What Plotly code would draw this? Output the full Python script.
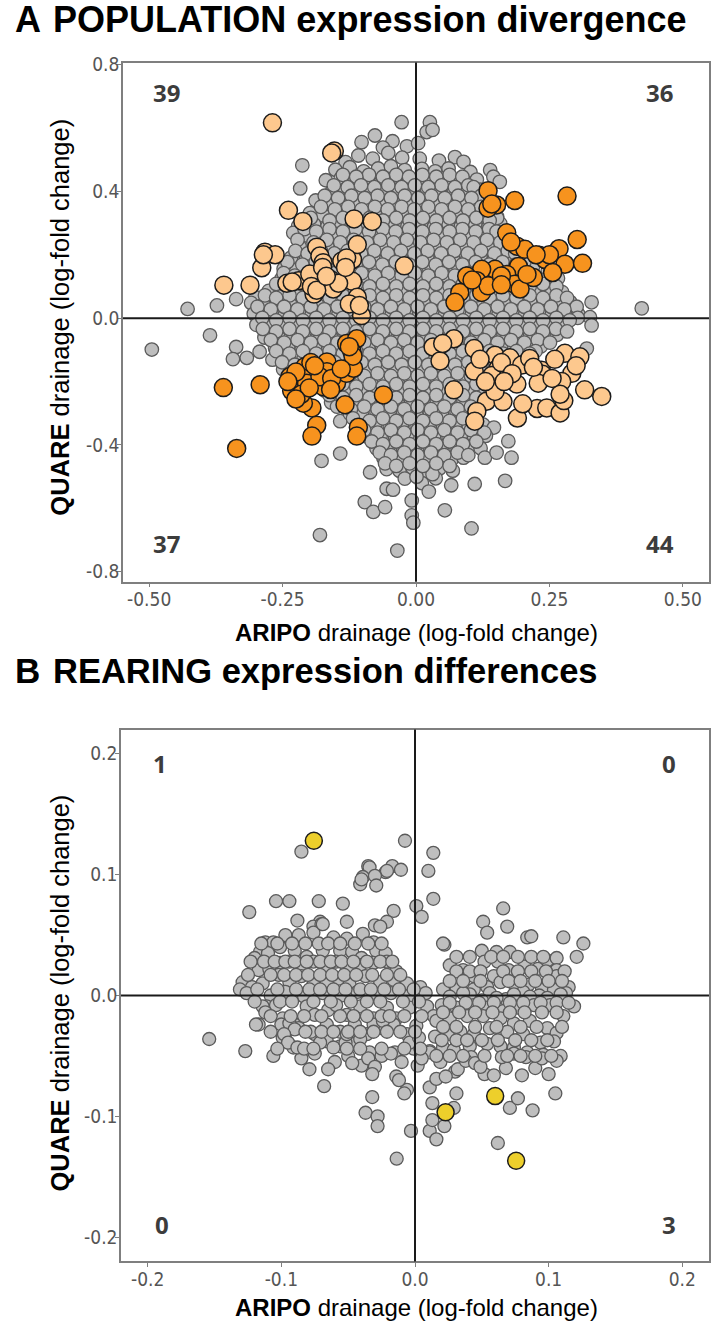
import plotly.graph_objects as go

# ---------------- Panel A data (ARIPO vs QUARE log-fold change) ----------------
A_gray = [
(-0.027,0.618),(0.026,0.618),(0.020,0.587),(0.031,0.594),
(-0.077,0.576),(-0.102,0.555),(-0.044,0.558),(-0.017,0.542),(-0.062,0.538),(0.004,0.552),
(-0.108,0.513),(-0.081,0.503),(-0.052,0.521),(-0.026,0.506),(0.007,0.503),(0.073,0.508),(0.089,0.493),(0.043,0.497),(-0.132,0.492),
(-0.213,0.482),(-0.151,0.468),(-0.124,0.476),(-0.098,0.463),(-0.071,0.472),(-0.047,0.479),(-0.021,0.467),(0.011,0.471),(0.036,0.463),(0.061,0.472),(0.102,0.461),(0.139,0.467),(0.145,0.446),
(-0.169,0.435),(-0.141,0.441),(-0.116,0.429),(-0.089,0.437),(-0.066,0.428),(-0.039,0.441),(-0.013,0.431),(0.016,0.439),(0.041,0.429),(0.066,0.441),(0.091,0.431),(0.114,0.437),(0.157,0.430),
(-0.217,0.409),(-0.158,0.398),(-0.133,0.406),(-0.108,0.397),(-0.084,0.403),(-0.059,0.394),(-0.034,0.406),(-0.007,0.397),(0.021,0.404),(0.046,0.396),(0.071,0.404),(0.096,0.396),(0.121,0.405),
(-0.188,0.371),(-0.163,0.361),(-0.139,0.369),(-0.114,0.359),(-0.089,0.367),(-0.064,0.359),(-0.041,0.369),(-0.014,0.360),(0.011,0.367),(0.036,0.359),(0.061,0.368),(0.086,0.359),(0.109,0.366),(0.131,0.358),
(-0.199,0.331),(-0.174,0.324),(-0.149,0.333),(-0.124,0.325),(-0.099,0.334),(-0.076,0.324),(-0.051,0.333),(-0.024,0.326),(0.001,0.334),(0.026,0.325),(0.051,0.333),(0.076,0.324),(0.101,0.331),(0.126,0.325),(0.152,0.320),
(-0.221,0.290),(-0.191,0.296),(-0.166,0.289),(-0.141,0.298),(-0.116,0.289),(-0.091,0.297),(-0.064,0.289),(-0.039,0.298),(-0.016,0.289),(0.011,0.297),(0.034,0.289),(0.061,0.298),(0.084,0.289),(0.111,0.297),(0.136,0.290),(0.158,0.298),
(-0.230,0.269),(-0.203,0.260),(-0.176,0.257),(-0.151,0.266),(-0.126,0.257),(-0.099,0.265),(-0.074,0.256),(-0.051,0.264),(-0.024,0.256),(0.001,0.264),(0.026,0.256),(0.049,0.265),(0.076,0.257),(0.099,0.264),(0.124,0.256),(0.149,0.263),
(-0.218,0.226),(-0.192,0.221),(-0.166,0.229),(-0.141,0.221),(-0.114,0.229),(-0.091,0.220),(-0.064,0.229),(-0.041,0.221),(-0.014,0.229),(0.011,0.220),(0.036,0.229),(0.059,0.221),(0.086,0.229),(0.111,0.220),(0.134,0.229),(0.161,0.231),(0.186,0.220),
(-0.234,0.191),(-0.206,0.187),(-0.181,0.194),(-0.156,0.186),(-0.129,0.195),(-0.106,0.187),(-0.079,0.194),(-0.056,0.186),(-0.029,0.195),(-0.004,0.187),(0.021,0.194),(0.046,0.186),(0.069,0.195),(0.096,0.187),(0.121,0.194),(0.146,0.189),(0.171,0.197),
(-0.248,0.156),(-0.224,0.152),(-0.199,0.159),(-0.176,0.151),(-0.149,0.160),(-0.126,0.152),(-0.099,0.159),(-0.076,0.151),(-0.049,0.160),(-0.026,0.152),(0.001,0.159),(0.024,0.151),(0.051,0.160),(0.074,0.152),(0.101,0.159),(0.126,0.151),(0.181,0.149),(0.219,0.161),(0.247,0.151),
(-0.252,0.124),(-0.239,0.128),(-0.214,0.119),(-0.191,0.127),(-0.164,0.118),(-0.141,0.127),(-0.114,0.119),(-0.091,0.127),(-0.064,0.118),(-0.041,0.127),(-0.014,0.119),(0.011,0.127),(0.034,0.118),(0.061,0.127),(0.084,0.119),(0.111,0.127),(0.169,0.124),(0.238,0.121),(0.266,0.126),(0.258,0.095),
(-0.273,0.066),(-0.301,0.066),(-0.337,0.060),(-0.373,0.040),(-0.428,0.029),(-0.223,0.081),
(-0.276,0.086),(-0.251,0.091),(-0.226,0.082),(-0.199,0.091),(-0.176,0.083),(-0.149,0.091),(-0.126,0.082),(-0.099,0.091),(-0.076,0.083),(-0.049,0.091),(-0.026,0.082),(0.001,0.091),(0.026,0.083),(0.049,0.091),(0.076,0.082),(0.099,0.091),(0.126,0.083),(0.149,0.091),(0.176,0.082),(0.199,0.091),(0.226,0.083),(0.249,0.091),(0.274,0.082),
(-0.309,0.048),(-0.286,0.044),(-0.259,0.053),(-0.236,0.045),(-0.209,0.054),(-0.186,0.045),(-0.159,0.053),(-0.136,0.045),(-0.109,0.054),(-0.086,0.045),(-0.059,0.053),(-0.036,0.045),(-0.009,0.054),(0.016,0.045),(0.039,0.053),(0.066,0.045),(0.089,0.054),(0.116,0.045),(0.139,0.053),(0.166,0.045),(0.189,0.054),(0.216,0.045),(0.239,0.053),(0.264,0.045),(0.289,0.051),(0.329,0.050),(0.423,0.031),(0.248,0.050),
(-0.304,0.014),(-0.271,0.018),(-0.246,0.009),(-0.219,0.017),(-0.196,0.009),(-0.169,0.018),(-0.146,0.009),(-0.119,0.017),(-0.096,0.009),(-0.069,0.018),(-0.046,0.009),(-0.019,0.017),(0.006,0.009),(0.031,0.018),(0.054,0.009),(0.081,0.017),(0.104,0.009),(0.131,0.018),(0.154,0.009),(0.181,0.017),(0.204,0.009),(0.231,0.018),(0.254,0.009),(0.279,0.016),(0.304,0.013),(0.326,0.003),
(-0.299,-0.021),(-0.274,-0.026),(-0.249,-0.017),(-0.224,-0.026),(-0.201,-0.018),(-0.174,-0.026),(-0.151,-0.017),(-0.124,-0.026),(-0.101,-0.018),(-0.074,-0.026),(-0.051,-0.017),(-0.024,-0.026),(0.001,-0.018),(0.026,-0.026),(0.049,-0.017),(0.076,-0.026),(0.099,-0.018),(0.126,-0.026),(0.149,-0.017),(0.176,-0.026),(0.199,-0.018),(0.226,-0.026),(0.251,-0.017),(0.274,-0.026),(0.329,-0.023),
(-0.386,-0.054),(-0.284,-0.061),(-0.258,-0.059),(-0.234,-0.054),(-0.209,-0.061),(-0.184,-0.053),(-0.159,-0.061),(-0.134,-0.053),(-0.111,-0.062),(-0.084,-0.053),(-0.061,-0.061),(-0.034,-0.053),(-0.011,-0.062),(0.016,-0.053),(0.041,-0.061),(0.064,-0.053),(0.091,-0.062),(0.114,-0.053),(0.141,-0.061),(0.164,-0.053),(0.191,-0.062),(0.214,-0.053),(0.241,-0.061),(0.264,-0.053),
(-0.495,-0.099),(-0.337,-0.091),(-0.293,-0.106),(-0.264,-0.094),(-0.239,-0.089),(-0.214,-0.096),(-0.189,-0.088),(-0.164,-0.097),(-0.141,-0.089),(-0.089,-0.096),(-0.064,-0.089),(-0.039,-0.097),(-0.014,-0.089),(0.011,-0.097),(0.036,-0.089),(0.061,-0.097),(0.084,-0.089),(0.111,-0.097),(0.134,-0.089),(0.161,-0.097),(0.184,-0.089),(0.211,-0.097),(0.234,-0.089),(0.320,-0.096),
(-0.343,-0.129),(-0.317,-0.125),(-0.269,-0.131),(-0.241,-0.121),(-0.211,-0.129),(-0.179,-0.121),(-0.151,-0.129),(-0.124,-0.121),(-0.099,-0.129),(-0.076,-0.121),(-0.049,-0.129),(-0.026,-0.121),(0.001,-0.129),(0.024,-0.121),(0.051,-0.129),(0.074,-0.121),(0.101,-0.129),(0.124,-0.121),(0.151,-0.129),(0.176,-0.121),(0.199,-0.129),
(-0.249,-0.161),(-0.221,-0.166),(-0.189,-0.157),(-0.166,-0.165),(-0.139,-0.157),(-0.116,-0.166),(-0.089,-0.157),(-0.066,-0.165),(-0.039,-0.157),(-0.016,-0.166),(0.011,-0.157),(0.034,-0.165),(0.061,-0.157),(0.084,-0.166),(0.111,-0.157),(0.136,-0.165),(0.159,-0.157),(0.186,-0.166),
(-0.209,-0.191),(-0.186,-0.198),(-0.161,-0.189),(-0.134,-0.197),(-0.111,-0.189),(-0.084,-0.198),(-0.061,-0.189),(-0.034,-0.197),(-0.011,-0.189),(0.016,-0.198),(0.039,-0.189),(0.066,-0.197),(0.089,-0.189),(0.116,-0.198),(0.141,-0.190),(0.166,-0.197),
(-0.171,-0.228),(-0.144,-0.235),(-0.121,-0.226),(-0.094,-0.234),(-0.071,-0.226),(-0.044,-0.235),(-0.021,-0.226),(0.006,-0.234),(0.029,-0.226),(0.056,-0.235),(0.079,-0.226),(0.106,-0.234),(0.129,-0.226),
(-0.159,-0.266),(-0.134,-0.271),(-0.111,-0.261),(-0.084,-0.270),(-0.061,-0.261),(-0.034,-0.269),(-0.009,-0.261),(0.016,-0.270),(0.039,-0.261),(0.066,-0.269),(0.089,-0.261),
(-0.142,-0.325),(-0.124,-0.301),(-0.101,-0.306),(-0.074,-0.297),(-0.051,-0.305),(-0.024,-0.297),(0.001,-0.306),(0.026,-0.297),(0.049,-0.305),(0.076,-0.297),(0.101,-0.305),
(-0.099,-0.341),(-0.076,-0.334),(-0.049,-0.342),(-0.026,-0.333),(0.001,-0.341),(0.024,-0.334),(0.051,-0.342),(0.074,-0.333),(0.099,-0.341),(0.126,-0.336),(0.146,-0.345),
(-0.089,-0.376),(-0.066,-0.369),(-0.039,-0.378),(-0.016,-0.369),(0.011,-0.377),(0.034,-0.369),(0.061,-0.378),(0.084,-0.369),(0.109,-0.377),(0.131,-0.371),
(-0.074,-0.411),(-0.051,-0.404),(-0.024,-0.413),(-0.001,-0.404),(0.026,-0.412),(0.049,-0.404),(0.076,-0.413),(0.099,-0.404),(0.121,-0.410),(0.173,-0.388),
(-0.177,-0.450),(-0.142,-0.427),(-0.061,-0.441),(-0.034,-0.448),(-0.011,-0.439),(0.016,-0.447),(0.041,-0.439),(0.066,-0.448),(0.089,-0.440),(0.129,-0.440),(0.151,-0.424),(0.179,-0.440),
(-0.086,-0.486),(-0.055,-0.476),(-0.031,-0.481),(-0.006,-0.473),(0.019,-0.482),(0.044,-0.474),(0.069,-0.481),(0.110,-0.523),(0.167,-0.513),
(-0.180,-0.684),(-0.096,-0.580),(-0.080,-0.611),(-0.058,-0.596),(-0.055,-0.538),(-0.043,-0.541),(-0.035,-0.733),(-0.008,-0.575),(-0.008,-0.622),(-0.005,-0.645),(0.011,-0.520),(0.024,-0.547),(0.054,-0.606),(0.037,-0.505),(0.066,-0.527),(0.104,-0.663),(-0.021,-0.506),(0.001,-0.500),(0.031,-0.492),
]

# extra gray genes filling the dense core; each row: (QUARE level, ARIPO values)
A_gray_rows = [
(0.452, [-0.137,-0.088,-0.037,0.012,0.063]),
(0.446, [-0.112,-0.062,-0.013,0.038,0.087]),
(0.419, [-0.154,-0.103,-0.052,-0.002,0.048,0.098]),
(0.413, [-0.128,-0.078,-0.027,0.023,0.073,0.108]),
(0.386, [-0.171,-0.121,-0.072,-0.021,0.029,0.079,0.122]),
(0.379, [-0.146,-0.096,-0.047,0.004,0.054,0.104]),
(0.351, [-0.178,-0.127,-0.077,-0.027,0.023,0.073,0.122]),
(0.343, [-0.152,-0.102,-0.053,-0.003,0.048,0.098,0.141]),
(0.316, [-0.197,-0.137,-0.087,-0.037,0.013,0.063,0.113,0.152]),
(0.308, [-0.162,-0.112,-0.062,-0.012,0.038,0.088,0.138]),
(0.281, [-0.209,-0.162,-0.113,-0.062,-0.013,0.037,0.087,0.137]),
(0.273, [-0.187,-0.137,-0.088,-0.038,0.012,0.063,0.112,0.151]),
(0.247, [-0.222,-0.167,-0.117,-0.067,-0.017,0.033,0.083,0.133,0.172]),
(0.239, [-0.192,-0.142,-0.092,-0.042,0.008,0.058,0.108,0.158]),
(0.212, [-0.226,-0.178,-0.128,-0.078,-0.028,0.022,0.072,0.122,0.172]),
(0.204, [-0.203,-0.153,-0.103,-0.053,-0.003,0.047,0.097,0.147,0.186]),
(0.177, [-0.241,-0.188,-0.138,-0.088,-0.038,0.012,0.062,0.112,0.162,0.203]),
(0.169, [-0.213,-0.163,-0.113,-0.063,-0.013,0.037,0.087,0.137,0.187]),
(0.142, [-0.248,-0.202,-0.152,-0.102,-0.052,-0.002,0.048,0.098,0.148,0.198]),
(0.134, [-0.227,-0.177,-0.127,-0.077,-0.027,0.023,0.073,0.123,0.173,0.222]),
(0.108, [-0.262,-0.212,-0.162,-0.112,-0.062,-0.012,0.038,0.088,0.138,0.188,0.238]),
(0.100, [-0.237,-0.187,-0.137,-0.087,-0.037,0.013,0.063,0.113,0.163,0.213,0.263]),
(0.072, [-0.283,-0.237,-0.187,-0.137,-0.087,-0.037,0.013,0.063,0.113,0.163,0.213,0.263]),
(0.064, [-0.262,-0.212,-0.162,-0.112,-0.062,-0.012,0.038,0.088,0.138,0.188,0.238,0.283]),
(0.036, [-0.297,-0.247,-0.197,-0.147,-0.097,-0.047,0.003,0.053,0.103,0.153,0.203,0.253,0.301]),
(0.028, [-0.272,-0.222,-0.172,-0.122,-0.072,-0.022,0.028,0.078,0.128,0.178,0.228,0.278]),
(0.001, [-0.288,-0.237,-0.187,-0.137,-0.087,-0.037,0.013,0.063,0.113,0.163,0.213,0.263,0.303]),
(-0.007, [-0.262,-0.212,-0.162,-0.112,-0.062,-0.012,0.038,0.088,0.138,0.188,0.238,0.288]),
(-0.034, [-0.287,-0.237,-0.187,-0.137,-0.087,-0.037,0.013,0.063,0.113,0.163,0.213,0.262]),
(-0.042, [-0.262,-0.212,-0.162,-0.112,-0.062,-0.012,0.038,0.088,0.138,0.188,0.238,0.283]),
(-0.069, [-0.272,-0.222,-0.172,-0.122,-0.072,-0.022,0.028,0.078,0.128,0.178,0.228]),
(-0.077, [-0.247,-0.197,-0.147,-0.097,-0.047,0.003,0.053,0.103,0.153,0.203,0.251]),
(-0.104, [-0.262,-0.212,-0.162,-0.112,-0.062,-0.012,0.038,0.088,0.138,0.188,0.224]),
(-0.112, [-0.237,-0.187,-0.137,-0.087,-0.037,0.013,0.063,0.113,0.163,0.213]),
(-0.139, [-0.251,-0.202,-0.152,-0.102,-0.052,-0.002,0.048,0.098,0.148,0.198]),
(-0.147, [-0.227,-0.177,-0.127,-0.077,-0.027,0.023,0.073,0.123,0.173]),
(-0.174, [-0.222,-0.172,-0.122,-0.072,-0.022,0.028,0.078,0.128,0.178]),
(-0.182, [-0.197,-0.147,-0.097,-0.047,0.003,0.053,0.103,0.153]),
(-0.208, [-0.188,-0.137,-0.087,-0.037,0.013,0.063,0.113,0.163]),
(-0.216, [-0.162,-0.112,-0.062,-0.012,0.038,0.088,0.138]),
(-0.243, [-0.162,-0.112,-0.062,-0.012,0.038,0.088,0.138]),
(-0.251, [-0.137,-0.087,-0.037,0.013,0.063,0.113]),
(-0.279, [-0.148,-0.097,-0.047,0.003,0.053,0.103]),
(-0.287, [-0.122,-0.072,-0.022,0.028,0.078,0.118]),
(-0.316, [-0.118,-0.062,-0.012,0.038,0.088]),
(-0.324, [-0.087,-0.037,0.013,0.063,0.108]),
(-0.353, [-0.097,-0.047,0.003,0.053,0.103]),
(-0.361, [-0.072,-0.022,0.028,0.078,0.128]),
(-0.389, [-0.083,-0.037,0.013,0.063,0.113]),
(-0.397, [-0.062,-0.012,0.038,0.088]),
(-0.424, [-0.068,-0.022,0.028,0.078]),
(-0.432, [-0.047,0.003,0.053,0.098]),
(-0.458, [-0.058,-0.012,0.038]),
(-0.466, [-0.037,0.013,0.063]),
]

A_light = [
# upper-left quadrant (39)
(-0.269,0.616),(-0.153,0.527),(-0.158,0.521),(-0.239,0.340),(-0.212,0.305),(-0.116,0.313),(-0.082,0.305),(-0.283,0.208),(-0.264,0.200),(-0.289,0.159),
(-0.360,0.104),(-0.311,0.104),(-0.242,0.110),(-0.220,0.118),(-0.199,0.139),(-0.186,0.224),(-0.180,0.196),(-0.174,0.175),(-0.139,0.180),(-0.119,0.185),
(-0.110,0.232),(-0.161,0.123),(-0.155,0.092),(-0.119,0.116),(-0.191,0.076),(-0.110,0.066),(-0.125,0.045),(-0.102,0.008),(-0.022,0.165),(-0.175,0.160),
(-0.286,0.200),(-0.130,0.190),(-0.145,0.110),(-0.196,0.100),(-0.186,0.088),(-0.106,0.040),(-0.168,0.132),(-0.232,0.114),(-0.132,0.160),
# lower-right quadrant (44)
(0.032,-0.091),(0.071,-0.065),(0.045,-0.135),(0.109,-0.096),(0.071,-0.226),(0.109,-0.167),(0.148,-0.117),(0.176,-0.125),(0.154,-0.158),(0.198,-0.148),
(0.142,-0.181),(0.189,-0.208),(0.213,-0.127),(0.235,-0.164),(0.237,-0.177),(0.279,-0.111),(0.307,-0.122),(0.292,-0.174),(0.273,-0.200),(0.316,-0.226),
(0.348,-0.247),(0.132,-0.262),(0.163,-0.263),(0.114,-0.294),(0.110,-0.325),(0.190,-0.315),(0.227,-0.285),(0.245,-0.283),(0.270,-0.299),(0.277,-0.260),
(0.270,-0.240),(0.148,-0.231),(0.229,-0.205),(0.220,-0.155),(0.160,-0.140),(0.130,-0.200),(0.180,-0.175),(0.050,-0.080),(0.255,-0.190),(0.300,-0.150),
(0.200,-0.270),(0.120,-0.130),(0.260,-0.130),(0.165,-0.200),
]

A_dark = [
# lower-left quadrant (37)
(-0.361,-0.219),(-0.292,-0.210),(-0.336,-0.411),(-0.236,-0.184),(-0.233,-0.229),(-0.208,-0.153),(-0.205,-0.205),(-0.197,-0.140),(-0.167,-0.138),(-0.167,-0.169),
(-0.174,-0.216),(-0.149,-0.205),(-0.130,-0.174),(-0.117,-0.158),(-0.195,-0.283),(-0.211,-0.268),(-0.186,-0.338),(-0.195,-0.372),(-0.133,-0.273),(-0.108,-0.344),
(-0.111,-0.372),(-0.061,-0.242),(-0.130,-0.080),(-0.111,-0.065),(-0.120,-0.106),(-0.118,-0.120),(-0.225,-0.170),(-0.180,-0.185),(-0.158,-0.190),(-0.215,-0.240),
(-0.190,-0.150),(-0.140,-0.160),(-0.125,-0.090),(-0.200,-0.220),(-0.160,-0.225),(-0.240,-0.200),(-0.225,-0.255),
# upper-right quadrant (36)
(0.135,0.402),(0.151,0.357),(0.135,0.347),(0.185,0.371),(0.283,0.385),(0.170,0.269),(0.189,0.227),(0.204,0.217),(0.231,0.198),(0.242,0.185),
(0.268,0.219),(0.302,0.248),(0.279,0.170),(0.312,0.173),(0.256,0.144),(0.220,0.128),(0.192,0.163),(0.148,0.154),(0.170,0.138),(0.185,0.107),
(0.195,0.092),(0.123,0.154),(0.114,0.118),(0.123,0.081),(0.135,0.102),(0.095,0.133),(0.082,0.081),(0.073,0.050),(0.160,0.133),(0.208,0.138),
(0.250,0.200),(0.178,0.240),(0.142,0.360),(0.105,0.120),(0.160,0.105),(0.225,0.200),
]

# ---------------- Panel B data ----------------
B_gray = [
(-0.0075,0.128),(-0.085,0.119),(0.0137,0.118),
(-0.035,0.107),(-0.017,0.107),(-0.0105,0.104),(-0.022,0.102),(0.010,0.103),(-0.034,0.106),(-0.021,0.103),
(-0.039,0.098),(-0.041,0.092),(-0.030,0.099),(-0.029,0.091),(-0.040,0.096),
(0.0137,0.080),(-0.104,0.078),(-0.094,0.078),(-0.072,0.078),(-0.054,0.076),
(-0.124,0.069),(-0.016,0.070),(0.001,0.074),(0.005,0.065),(0.066,0.072),
(-0.088,0.062),(-0.071,0.061),(-0.051,0.061),(-0.021,0.061),(-0.030,0.058),(-0.076,0.057),(-0.070,0.059),
(0.051,0.061),(0.054,0.052),(0.069,0.057),(0.022,0.042),
(0.084,0.048),(0.087,0.049),(0.111,0.048),(0.126,0.043),(0.121,0.032),
(-0.112,0.044),(-0.106,0.044),(-0.097,0.050),(-0.087,0.050),(-0.076,0.052),(-0.069,0.059),(-0.061,0.048),(-0.051,0.047),(-0.039,0.051),(-0.031,0.044),(-0.026,0.057),
(-0.116,0.036),(-0.110,0.035),(-0.120,0.031),(-0.101,0.040),(-0.090,0.037),(-0.081,0.032),(-0.069,0.037),(-0.056,0.037),(-0.047,0.036),(-0.040,0.031),(-0.029,0.037),(-0.022,0.035),
(-0.117,0.021),(-0.109,0.022),(-0.101,0.027),(-0.094,0.028),(-0.086,0.022),(-0.076,0.028),(-0.066,0.025),(-0.059,0.028),(-0.051,0.022),(-0.041,0.025),(-0.031,0.027),(-0.021,0.028),(-0.014,0.020),
(-0.129,0.011),(-0.122,0.007),(-0.131,0.005),(-0.114,0.010),(-0.102,0.017),(-0.094,0.011),(-0.085,0.016),(-0.076,0.009),(-0.066,0.011),(-0.057,0.014),(-0.049,0.009),(-0.037,0.016),(-0.026,0.011),(-0.016,0.013),(-0.006,0.010),(0.004,0.007),
(-0.126,0.002),(-0.108,0.000),(-0.097,0.003),(-0.083,-0.001),(-0.069,0.002),(-0.055,0.000),(-0.043,0.003),(-0.029,-0.001),(-0.018,0.002),(-0.004,0.000),(0.008,0.002),
(-0.111,-0.009),(-0.104,-0.008),(-0.099,-0.019),(-0.090,-0.024),(-0.081,-0.009),(-0.075,-0.016),(-0.065,-0.012),(-0.059,-0.008),(-0.051,-0.016),(-0.041,-0.009),(-0.031,-0.019),(-0.021,-0.010),(-0.014,-0.019),(-0.004,-0.010),(0.009,-0.009),
(-0.117,-0.024),(-0.096,-0.030),(-0.087,-0.027),(-0.075,-0.032),(-0.066,-0.024),(-0.056,-0.030),(-0.045,-0.024),(-0.036,-0.032),(-0.026,-0.027),(-0.016,-0.024),(-0.006,-0.032),(0.001,-0.025),(0.014,-0.017),
(-0.099,-0.035),(-0.091,-0.043),(-0.066,-0.038),(-0.056,-0.042),(-0.046,-0.040),(-0.034,-0.047),(-0.015,-0.047),(-0.001,-0.039),(0.011,-0.046),(-0.154,-0.036),(-0.127,-0.046),
(-0.106,-0.050),(-0.085,-0.052),(-0.075,-0.048),(-0.060,-0.055),(-0.050,-0.050),(-0.040,-0.058),(-0.025,-0.050),(-0.010,-0.055),
(0.021,0.043),(0.026,0.025),(0.036,0.021),(0.044,0.016),(0.050,0.037),(0.061,0.036),(0.071,0.036),(0.052,0.028),(0.062,0.028),(0.070,0.021),(0.082,0.024),(0.092,0.022),(0.099,0.029),(0.106,0.031),(0.106,0.021),(0.106,0.016),(0.115,0.007),
(0.059,0.016),(0.044,0.005),(0.054,0.007),(0.064,0.011),(0.074,0.010),(0.085,0.009),(0.095,0.006),(0.104,0.005),(0.021,0.005),(0.031,0.007),
(0.026,-0.001),(0.041,0.001),(0.056,0.002),(0.068,-0.003),(0.081,0.003),(0.093,0.000),(0.113,0.002),
(0.036,0.002),(0.050,-0.004),(0.061,-0.002),(0.074,0.001),(0.086,-0.001),(0.099,-0.002),(0.109,0.001),(0.119,-0.009),
(0.020,-0.008),(0.031,-0.010),(0.044,-0.008),(0.054,-0.010),(0.066,-0.013),(0.077,-0.010),(0.089,-0.008),(0.101,-0.008),(0.111,-0.017),
(0.016,-0.021),(0.026,-0.019),(0.039,-0.017),(0.051,-0.017),(0.064,-0.019),(0.074,-0.023),(0.086,-0.021),(0.099,-0.027),(0.106,-0.031),
(0.015,-0.034),(0.026,-0.032),(0.034,-0.030),(0.044,-0.032),(0.056,-0.027),(0.069,-0.030),(0.081,-0.032),(0.094,-0.039),(0.104,-0.038),
(0.021,-0.043),(0.029,-0.045),(0.041,-0.042),(0.054,-0.040),(0.064,-0.042),(0.074,-0.043),(0.084,-0.047),(0.096,-0.049),(0.109,-0.050),(0.011,-0.047),(0.042,-0.051),
(0.030,-0.063),(0.052,-0.065),(0.068,-0.060),(0.080,-0.066),(0.090,-0.060),(0.100,-0.065),
(-0.119,-0.024),(-0.114,-0.009),(-0.112,-0.014),
(-0.100,-0.024),(-0.094,-0.023),(-0.090,-0.028),(-0.098,-0.032),(-0.095,-0.039),(-0.088,-0.043),
(-0.079,-0.061),(-0.065,-0.061),(-0.068,-0.075),
(-0.078,-0.030),(-0.071,-0.039),(-0.061,-0.043),(-0.052,-0.039),(-0.047,-0.056),(-0.035,-0.052),(-0.030,-0.059),(-0.032,-0.065),(-0.051,-0.032),(-0.041,-0.036),(-0.031,-0.024),(-0.024,-0.021),(-0.018,-0.048),(-0.014,-0.067),(-0.006,-0.078),(-0.008,-0.081),(-0.012,-0.070),
(-0.032,-0.084),(-0.037,-0.097),(-0.028,-0.100),(-0.028,-0.108),(-0.0137,-0.135),(-0.003,-0.112),
(0.002,-0.058),(0.005,-0.052),(-0.001,-0.044),(-0.004,-0.039),(0.003,-0.035),
(0.011,-0.076),(0.016,-0.069),(0.023,-0.067),
(0.013,-0.089),(0.029,-0.093),(0.031,-0.081),
(0.011,-0.112),(0.016,-0.119),(0.022,-0.108),(0.013,-0.103),
(0.019,-0.055),(0.032,-0.061),(0.038,-0.054),(0.045,-0.056),(0.049,-0.059),(0.059,-0.066),(0.065,-0.051),(0.074,-0.048),(0.083,-0.051),(0.095,-0.052),(0.106,-0.054),(0.105,-0.081),
(0.071,-0.093),(0.077,-0.085),(0.088,-0.095),
(0.062,-0.122),
]

# extra gray genes filling the two dense lobes of panel B
B_gray_rows = [
(0.043, [-0.115,-0.103,-0.092,-0.082,-0.072,-0.065,-0.056,-0.045,-0.035,-0.025]),
(0.028, [-0.123,-0.113,-0.105,-0.097,-0.090,-0.081,-0.071,-0.063,-0.055,-0.046,-0.036,-0.026,-0.017]),
(0.017, [-0.125,-0.108,-0.098,-0.089,-0.080,-0.071,-0.062,-0.053,-0.044,-0.032,-0.021,-0.011]),
(0.005, [-0.118,-0.103,-0.089,-0.079,-0.071,-0.061,-0.052,-0.041,-0.033,-0.023,-0.012,-0.001]),
(-0.005, [-0.120,-0.101,-0.092,-0.076,-0.063,-0.048,-0.036,-0.026,-0.009,0.003]),
(-0.017, [-0.108,-0.093,-0.083,-0.070,-0.056,-0.046,-0.036,-0.025,-0.019,-0.008,0.005]),
(-0.030, [-0.108,-0.082,-0.070,-0.061,-0.050,-0.041,-0.031,-0.021,-0.011,0.000]),
(-0.044, [-0.103,-0.083,-0.076,-0.051,-0.041,-0.025,-0.008,0.004]),
(0.032, [0.031,0.041,0.057,0.066,0.077,0.087,0.096]),
(0.020, [0.031,0.041,0.049,0.066,0.077,0.087,0.098,0.112]),
(0.012, [0.026,0.036,0.049,0.070,0.079,0.090,0.100,0.110]),
(-0.006, [0.026,0.038,0.048,0.059,0.071,0.081,0.094,0.106,0.115]),
(-0.014, [0.021,0.033,0.045,0.058,0.071,0.082,0.095,0.106]),
(-0.026, [0.021,0.031,0.045,0.061,0.079,0.091,0.110]),
(-0.037, [0.020,0.031,0.039,0.050,0.062,0.075,0.087,0.099]),
(-0.050, [0.016,0.026,0.036,0.052,0.069,0.079,0.090,0.102]),
]

B_yellow = [(-0.0757,0.128),(0.0229,-0.0965),(0.060,-0.0832),(0.0757,-0.1367)]

A_counts = ["39", "36", "37", "44"]
B_counts = ["1", "0", "0", "3"]

A_xticks = [-0.5, -0.25, 0.0, 0.25, 0.5]
A_xtext = ["-0.50", "-0.25", "0.00", "0.25", "0.50"]
A_yticks = [-0.8, -0.4, 0.0, 0.4, 0.8]
A_ytext = ["-0.8", "-0.4", "0.0", "0.4", "0.8"]
B_ticks = [-0.2, -0.1, 0.0, 0.1, 0.2]
B_text = ["-0.2", "-0.1", "0.0", "0.1", "0.2"]

# ---------------- figure ----------------
W, H = 711, 1326
GRAY_FILL = "#bebebe"
GRAY_LINE = "#5a5a5a"
LIGHT_OR = "#fdc88e"
DARK_OR = "#f7931e"
YELLOW = "#edcf2b"
EDGE = "#1c1c1c"
NARROW = "DejaVu Sans Condensed, Liberation Sans Narrow, Arial Narrow, sans-serif"
SANS = "Liberation Sans, Arial, sans-serif"


def flat(points, rows):
    px = [a for a, b in points]
    py = [b for a, b in points]
    for yv, xl in rows:
        for xv in xl:
            px.append(xv)
            py.append(yv)
    return px, py


ax_x, ax_y = flat(A_gray, A_gray_rows)
bx_x, bx_y = flat(B_gray, B_gray_rows)

fig = go.Figure()
fig.add_trace(go.Scatter(x=ax_x, y=ax_y, mode="markers", xaxis="x", yaxis="y",
                         marker=dict(size=13.5, color=GRAY_FILL, line=dict(color=GRAY_LINE, width=1.3))))
fig.add_trace(go.Scatter(x=[a for a, b in A_light], y=[b for a, b in A_light], mode="markers", xaxis="x", yaxis="y",
                         marker=dict(size=18, color=LIGHT_OR, line=dict(color=EDGE, width=1.5))))
fig.add_trace(go.Scatter(x=[a for a, b in A_dark], y=[b for a, b in A_dark], mode="markers", xaxis="x", yaxis="y",
                         marker=dict(size=18, color=DARK_OR, line=dict(color=EDGE, width=1.5))))
fig.add_trace(go.Scatter(x=bx_x, y=bx_y, mode="markers", xaxis="x2", yaxis="y2",
                         marker=dict(size=13, color=GRAY_FILL, line=dict(color=GRAY_LINE, width=1.3))))
fig.add_trace(go.Scatter(x=[a for a, b in B_yellow], y=[b for a, b in B_yellow], mode="markers", xaxis="x2", yaxis="y2",
                         marker=dict(size=17, color=YELLOW, line=dict(color=EDGE, width=1.5))))

axis_common = dict(showgrid=False, zeroline=False, showline=True, mirror=True,
                   linecolor="#7f7f7f", linewidth=1.5, ticks="outside", ticklen=4,
                   tickcolor="#7f7f7f", tickwidth=1.2,
                   tickfont=dict(family=NARROW, size=19, color="#555555"))

fig.update_layout(
    width=W, height=H, margin=dict(l=0, r=0, t=0, b=0),
    paper_bgcolor="white", plot_bgcolor="white", showlegend=False,
    xaxis=dict(domain=[123 / W, 709 / W], range=[-0.549, 0.549], anchor="y",
               tickvals=A_xticks, ticktext=A_xtext, ticklabelstandoff=-4, **axis_common),
    yaxis=dict(domain=[1 - 577 / H, 1 - 54 / H], range=[-0.831, 0.806], anchor="x",
               tickvals=A_yticks, ticktext=A_ytext, ticklabelstandoff=-6, **axis_common),
    xaxis2=dict(domain=[121 / W, 709 / W], range=[-0.22, 0.22], anchor="y2",
                tickvals=B_ticks, ticktext=B_text, ticklabelstandoff=-4, **axis_common),
    yaxis2=dict(domain=[1 - 1262 / H, 1 - 726 / H], range=[-0.22, 0.22], anchor="x2",
                tickvals=B_ticks, ticktext=B_text, ticklabelstandoff=-6, **axis_common),
)

# zero lines drawn above the points
for xr, yr in (("x", "y"), ("x2", "y2")):
    fig.add_shape(type="line", xref=xr + " domain", yref=yr, x0=0, x1=1, y0=0, y1=0,
                  line=dict(color="#1a1a1a", width=2), layer="above")
    fig.add_shape(type="line", xref=xr, yref=yr + " domain", x0=0, x1=0, y0=0, y1=1,
                  line=dict(color="#1a1a1a", width=2), layer="above")

# quadrant counts
cnt_font = dict(family="Open Sans, DejaVu Sans, sans-serif", size=24, color="#3c3c3c")
A_pos = [(-0.468, 0.712), (0.457, 0.712), (-0.468, -0.712), (0.458, -0.712)]
for (cx, cy), t in zip(A_pos, A_counts):
    fig.add_annotation(x=cx, y=cy, xref="x", yref="y", text="<b>%s</b>" % t, showarrow=False, font=cnt_font)
B_pos = [(-0.191, 0.192), (0.19, 0.192), (-0.189, -0.189), (0.19, -0.189)]
for (cx, cy), t in zip(B_pos, B_counts):
    fig.add_annotation(x=cx, y=cy, xref="x2", yref="y2", text="<b>%s</b>" % t, showarrow=False, font=cnt_font)

# panel titles
fig.add_annotation(x=13 / W, y=1 - 11 / H, xref="paper", yref="paper", text="<b>A</b>",
                   showarrow=False, xanchor="left", yanchor="middle", font=dict(family=SANS, size=36, color="black"))
fig.add_annotation(x=51 / W, y=1 - 11 / H, xref="paper", yref="paper",
                   text="<b>POPULATION expression divergence</b>",
                   showarrow=False, xanchor="left", yanchor="middle", font=dict(family=SANS, size=36, color="black"))
fig.add_annotation(x=13 / W, y=1 - 667 / H, xref="paper", yref="paper", text="<b>B</b>",
                   showarrow=False, xanchor="left", yanchor="middle", font=dict(family=SANS, size=35, color="black"))
fig.add_annotation(x=51 / W, y=1 - 667 / H, xref="paper", yref="paper",
                   text="<b>REARING expression differences</b>",
                   showarrow=False, xanchor="left", yanchor="middle", font=dict(family=SANS, size=34.5, color="black"))

# axis titles
ytitle = "<b>QUARE</b> drainage (log-fold change)"
xtitle = "<b>ARIPO</b> drainage (log-fold change)"
yfont = dict(family=SANS, size=25.5, color="black")
xfont = dict(family=SANS, size=24, color="black")
fig.add_annotation(x=60 / W, y=1 - 311 / H, xref="paper", yref="paper", text=ytitle, textangle=-90,
                   showarrow=False, xanchor="center", yanchor="middle", font=yfont)
fig.add_annotation(x=60 / W, y=1 - 992 / H, xref="paper", yref="paper", text=ytitle, textangle=-90,
                   showarrow=False, xanchor="center", yanchor="middle", font=yfont)
fig.add_annotation(x=416 / W, y=1 - 628 / H, xref="paper", yref="paper", text=xtitle,
                   showarrow=False, xanchor="center", yanchor="middle", font=xfont)
fig.add_annotation(x=416 / W, y=1 - 1308 / H, xref="paper", yref="paper", text=xtitle,
                   showarrow=False, xanchor="center", yanchor="middle", font=xfont)

fig.write_html("out.html", config={"displayModeBar": False},
               post_script="document.body.style.margin='0px';document.body.style.padding='0px';")
